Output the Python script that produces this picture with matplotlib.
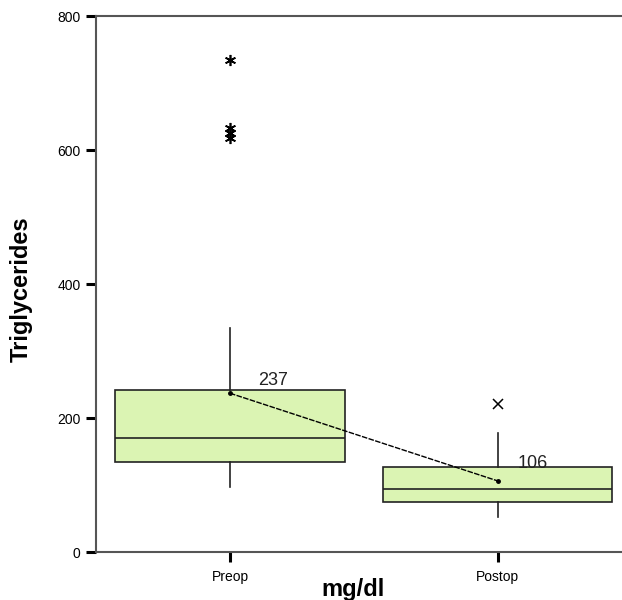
import matplotlib
matplotlib.use("Agg")
import matplotlib.pyplot as plt

plt.rcParams["font.family"] = ["Liberation Sans", "DejaVu Sans"]

# box plot statistics (mg/dl)
groups = ["Preop", "Postop"]
q1 = [134, 75]
medians = [170, 94]
q3 = [242, 127]
whisker_low = [97, 52]
whisker_high = [334, 178]
means = [237, 106]
preop_extremes = [735, 633, 626, 618]
postop_outliers = [221]

box_color = "#dbf4b3"
spine_color = "#555555"

fig = plt.figure(figsize=(6.22, 6.0), dpi=100)
ax = fig.add_axes([0.1543, 0.08, 0.8457, 0.8933])

positions = [1, 2]
stats = []
for i, name in enumerate(groups):
    stats.append({
        "label": name,
        "q1": q1[i], "med": medians[i], "q3": q3[i],
        "whislo": whisker_low[i], "whishi": whisker_high[i],
        "fliers": [],
    })

ax.bxp(stats, positions=positions, widths=0.855, patch_artist=True,
       showcaps=False, showfliers=False,
       boxprops=dict(facecolor=box_color, edgecolor="#222222", linewidth=1.2),
       medianprops=dict(color="#222222", linewidth=1.2),
       whiskerprops=dict(color="#222222", linewidth=1.2))

# outliers
ax.plot([1] * len(preop_extremes), preop_extremes, linestyle="none",
        marker=(6, 2, 0), markersize=8, color="black", markeredgewidth=1.2)
ax.plot([2] * len(postop_outliers), postop_outliers, linestyle="none",
        marker="x", markersize=7, color="black", markeredgewidth=1.1)

# line joining means
ax.plot(positions, means, color="black", linewidth=1.0, marker="o",
        markersize=2.5, linestyle=(0, (4, 1)))
ax.text(1.105, 249, str(means[0]), fontsize=13, ha="left", va="baseline",
        color="#222222")
ax.text(2.075, 125, str(means[1]), fontsize=13, ha="left", va="baseline",
        color="#222222")

ax.set_xlim(0.5, 2.463)
ax.set_ylim(0, 800)
ax.set_yticks([0, 200, 400, 600, 800])
ax.set_xticks(positions)
ax.set_xticklabels(groups, fontsize=10)
ax.tick_params(axis="y", labelsize=10, length=7, width=2.2, color="black",
               direction="out", pad=4)
ax.tick_params(axis="x", length=7, width=2.2, color="black", direction="out",
               pad=6)

for side in ["left", "bottom", "top"]:
    ax.spines[side].set_color(spine_color)
    ax.spines[side].set_linewidth(1.5)
ax.spines["right"].set_visible(False)

ax.set_ylabel("Triglycerides", fontsize=17, fontweight="bold")
ax.yaxis.set_label_coords(-0.12, 0.49)
fig.text(0.568, 0.017, "mg/dl", fontsize=17, fontweight="bold", ha="center",
         va="center")

fig.savefig("out.png", dpi=100)
